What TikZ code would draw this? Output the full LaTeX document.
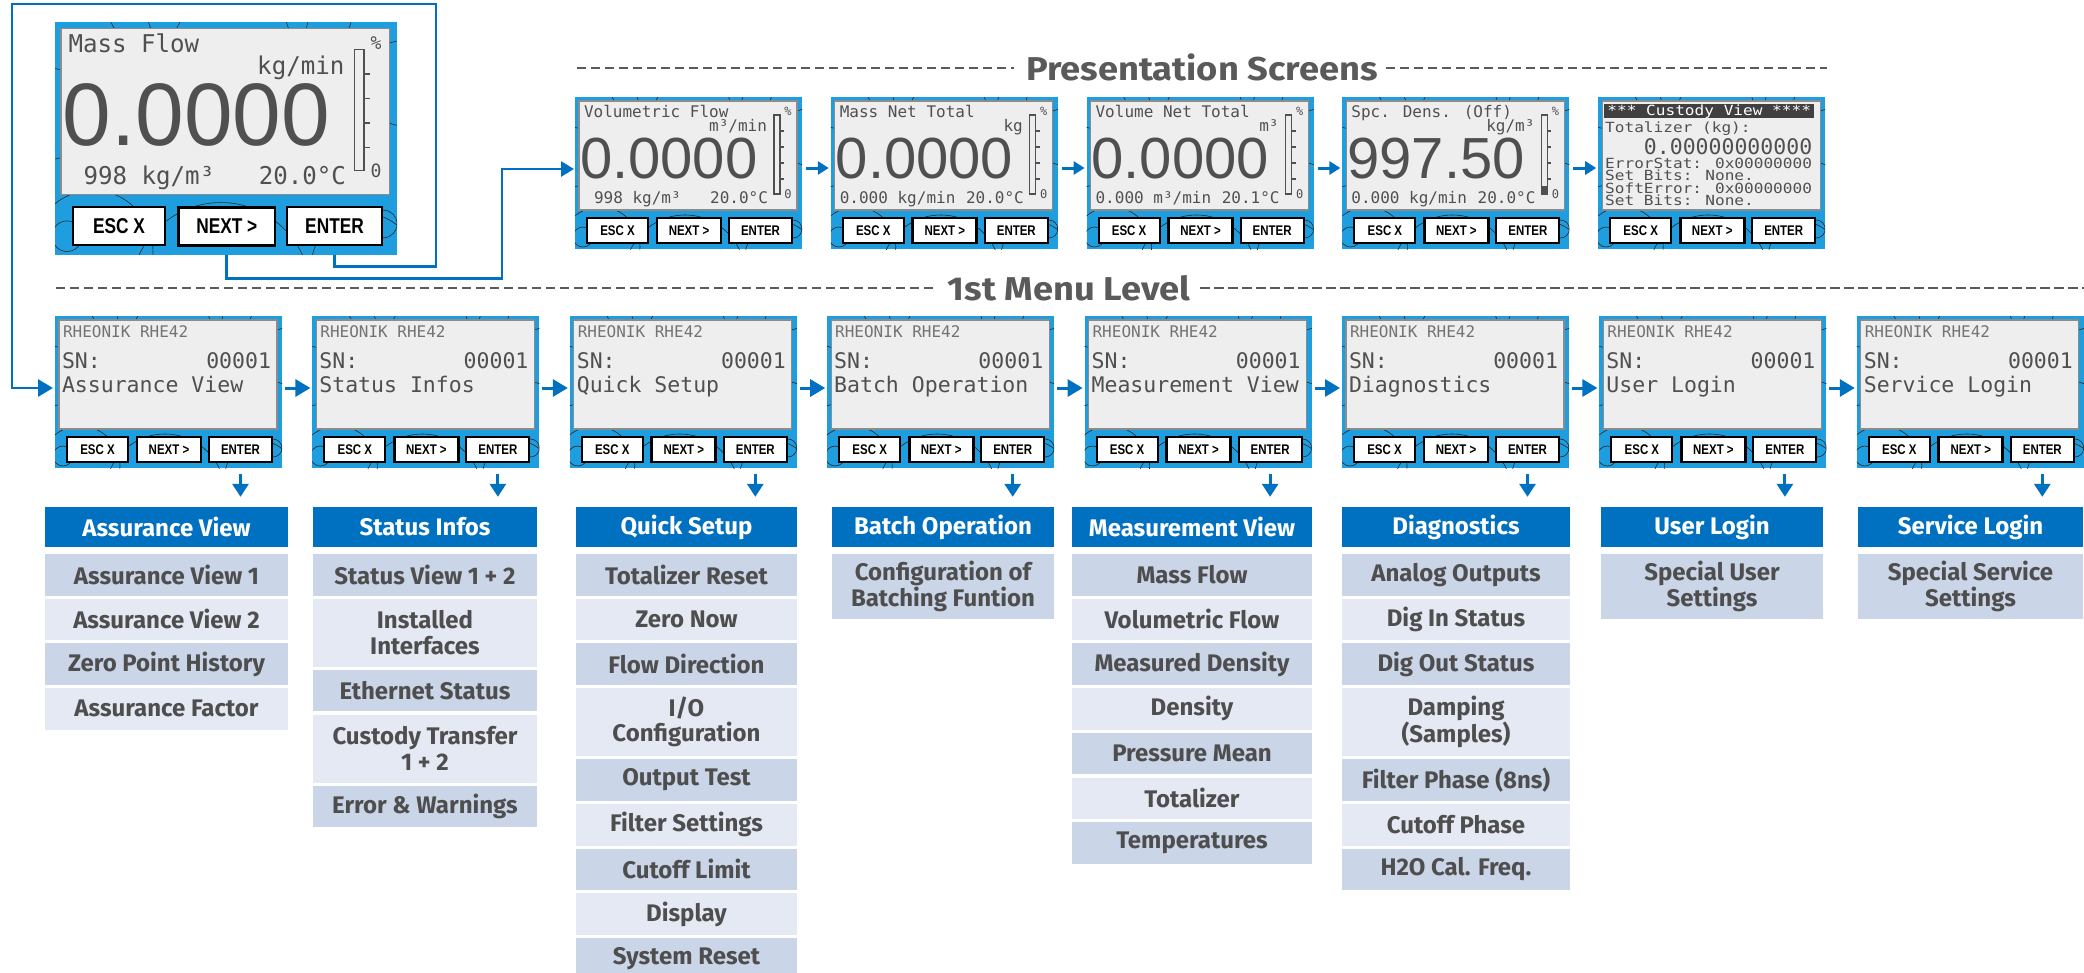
\documentclass[tikz,border=0pt]{standalone}
\usepackage{fontspec}
\usepackage{graphicx}
\setmainfont{Fira Sans}
\newfontfamily\lcdfont{DejaVu Sans Mono}
\newfontfamily\digfont{Liberation Sans}
\newfontfamily\btnfam{Liberation Sans}
\usetikzlibrary{arrows.meta,calc}
\definecolor{hblue}{RGB}{0,112,192}
\definecolor{rowdark}{RGB}{203,213,232}
\definecolor{rowlight}{RGB}{229,233,243}
\definecolor{txtgrey}{RGB}{78,78,78}
\definecolor{lcdblue}{RGB}{30,158,222}
\definecolor{lcdbg}{RGB}{238,238,238}
\definecolor{lcdtxt}{RGB}{80,80,80}
\definecolor{titlegrey}{RGB}{90,90,90}
\newcommand{\btxt}[1]{\scalebox{0.82}[1]{#1}}
\newcommand{\tscale}[1]{\scalebox{1.1}[1]{#1}}
\newcommand{\cvtxt}[1]{\scalebox{1.15}[1]{#1}}
\tikzset{
  lcdframe/.style={draw=none, fill=lcdblue, minimum width=227pt, minimum height=152pt, anchor=north west, inner sep=0pt, outer sep=0pt},
  lcdscreen/.style={fill=lcdbg, draw=black!45, line width=1.2pt},
  patt/.style={draw=black!85, line width=0.6pt},
  btn/.style={draw=black, fill=white, line width=2pt, minimum height=25pt, inner sep=0pt, font=\btnfam\bfseries\fontsize{14}{14}\selectfont},
  lcdt/.style={inner sep=0pt, outer sep=0pt, text=lcdtxt, font=\lcdfont\fontsize{16}{17}\selectfont},
  lcdbig/.style={font=\lcdfont\fontsize{21.5}{22}\selectfont},
  lcdsm/.style={font=\lcdfont\fontsize{14}{14}\selectfont},
  lcdpct/.style={inner sep=0pt, text=lcdtxt, font=\lcdfont\fontsize{12}{12}\selectfont},
  bigdig/.style={inner sep=0pt, outer sep=0pt, text=lcdtxt, font=\digfont\fontsize{58}{60}\selectfont},
  bar/.style={draw=lcdtxt, line width=1.2pt},
  hdr/.style={fill=hblue, text=white, font=\bfseries\fontsize{24}{25.5}\selectfont, minimum height=40pt, inner sep=0pt},
  rowbox/.style={text=txtgrey, font=\bfseries\fontsize{24}{25.5}\selectfont, align=center, inner sep=0pt},
  ttl/.style={text=titlegrey, font=\bfseries\fontsize{33}{35}\selectfont, inner sep=0pt},
  dashl/.style={draw=titlegrey, line width=2.6pt, dash pattern=on 9.3pt off 4.7pt},
  marr/.style={draw=hblue, line width=3pt, -{Triangle[length=15pt,width=17pt]}},
  parr/.style={draw=hblue, line width=3pt, -{Triangle[length=11pt,width=13pt]}},
  darr/.style={draw=hblue, line width=3pt, -{Triangle[length=13pt,width=16pt]}},
  loopl/.style={draw=hblue, line width=2.8pt},
}
\newcommand{\lcdbody}[1]{%
  \node[lcdframe] (#1) at (0,0) {};
  \begin{scope}
    \clip (0,0) rectangle (227,152);
    \draw[patt] (25,150) circle (40) (115,-15) circle (55) (205,160) circle (35)
      (-5,60) circle (30) (232,40) circle (28) (110,178) circle (60)
      (8,140) circle (10) (218,132) circle (9) (60,-10) circle (25) (175,-5) circle (22);
  \end{scope}
  \draw[lcdscreen] (4,4) rectangle (222,113);
  \node[btn, minimum width=61pt] (#1esc) at (42.5,133.5) {\btxt{ESC X}};
  \node[btn, minimum width=64pt, line width=2.8pt] (#1nxt) at (114,133.5) {\btxt{NEXT >}};
  \node[btn, minimum width=63pt] (#1ent) at (185.5,133.5) {\btxt{ENTER}};
}
\newcommand{\prescontent}[7]{%
  \node[lcdt, anchor=base west] (#1t) at (9,20) {#2};
  \node[lcdt, anchor=base east] (#1u) at (192,34) {#3};
  \node[bigdig, anchor=base west] (#1v) at (5,81) {#4};
  \node[lcdt, anchor=base west] (#1l) at (#5,106) {#6};
  \node[lcdt, anchor=base east] (#1r) at (193,106) {#7};
  \draw[bar] (199,18) rectangle (205,97) (205,34) -- (209,34) (205,50) -- (209,50)
    (205,66) -- (209,66) (205,82) -- (209,82);
  \node[lcdpct] (#1p) at (213,14) {\%};
  \node[lcdpct] (#1z) at (213,97) {0};
}
\newcommand{\menuscr}[3]{%
  \begin{scope}[shift={(#2,316)}]
    \lcdbody{#1}
    \node[lcdt, text=black!55, anchor=base west] (#1a) at (8,21) {RHEONIK RHE42};
    \node[lcdt, lcdbig, anchor=base west] (#1b) at (7,52) {SN:};
    \node[lcdt, lcdbig, anchor=base east] (#1c) at (216,52) {00001};
    \node[lcdt, lcdbig, anchor=base west] (#1d) at (7,76) {#3};
  \end{scope}%
}
\newcommand{\menucol}[5]{%
  \node[hdr, minimum width={#3-#2}] (#1) at ({(#2+#3)/2},527) {#4};
  \xdef\cury{554}%
  \foreach \hh/\txt [count=\i] in {#5} {%
    \ifodd\i \def\rowcol{rowdark}\else\def\rowcol{rowlight}\fi
    \node[rowbox, fill=\rowcol, minimum width={#3-#2}, minimum height=\hh] (#1\i) at ({(#2+#3)/2},{\cury+\hh/2}) {\txt};
    \pgfmathsetmacro\ny{\cury+\hh+3.2}%
    \xdef\cury{\ny}%
  }%
}
\begin{document}
\begin{tikzpicture}[x=1pt,y=-1pt]
\useasboundingbox (0,0) rectangle (2084,972);

% ---- big display
\begin{scope}[shift={(55,22)}, xscale=1.507, yscale=1.53, transform shape]
  \lcdbody{big}
  \prescontent{big}{Mass Flow}{kg/min}{0.0000}{19}{998 kg/m³}{20.0°C}
\end{scope}

% ---- presentation title
\node[ttl] (pt) at (1202,67) {\tscale{Presentation Screens}};
\coordinate (ptl) at (577,68);
\coordinate (ptr) at (1827,68);
\draw[dashl] (ptl) -- ([xshift=-12pt]pt.west |- ptl);
\draw[dashl] ([xshift=8pt]pt.east |- ptr) -- (ptr);

% ---- presentation screens
\begin{scope}[shift={(575,97)}]
  \lcdbody{p1}
  \prescontent{p1}{Volumetric Flow}{m³/min}{0.0000}{19}{998 kg/m³}{20.0°C}
\end{scope}
\begin{scope}[shift={(830.8,97)}]
  \lcdbody{p2}
  \prescontent{p2}{Mass Net Total}{kg}{0.0000}{9}{0.000 kg/min}{20.0°C}
\end{scope}
\begin{scope}[shift={(1086.6,97)}]
  \lcdbody{p3}
  \prescontent{p3}{Volume Net Total}{m³}{0.0000}{9}{0.000 m³/min}{20.1°C}
\end{scope}
\begin{scope}[shift={(1342.4,97)}]
  \lcdbody{p4}
  \prescontent{p4}{Spc. Dens. (Off)}{kg/m³}{997.50}{9}{0.000 kg/min}{20.0°C}
  \fill[lcdtxt] (199,89) rectangle (205,97);
\end{scope}
\begin{scope}[shift={(1598.2,97)}]
  \lcdbody{p5}
  \fill[black!75] (6,7) rectangle (216,21);
  \node[lcdt, lcdsm, text=white] (p5h) at (111,14.5) {\cvtxt{*** Custody View ****}};
  \node[lcdt, lcdsm, anchor=base west] (p5a) at (7,35) {\cvtxt{Totalizer (kg):}};
  \node[lcdt, lcdbig, anchor=base east] (p5b) at (214,57) {0.00000000000};
  \node[lcdt, lcdsm, anchor=base west] (p5c) at (7,71) {\cvtxt{ErrorStat: 0x00000000}};
  \node[lcdt, lcdsm, anchor=base west] (p5d) at (7,83.5) {\cvtxt{Set Bits: None.}};
  \node[lcdt, lcdsm, anchor=base west] (p5e) at (7,96) {\cvtxt{SoftError: 0x00000000}};
  \node[lcdt, lcdsm, anchor=base west] (p5f) at (7,108.5) {\cvtxt{Set Bits: None.}};
\end{scope}

\foreach \a/\b in {p1/p2,p2/p3,p3/p4,p4/p5}
  \draw[parr] ([xshift=4pt,yshift=5pt]\a.east) -- ([xshift=-2pt,yshift=5pt]\b.west);

% ---- menu title
\node[ttl] (mt) at (1069,288) {\tscale{1st Menu Level}};
\coordinate (mtl) at (56,288);
\coordinate (mtr) at (2084,288);
\draw[dashl] (mtl) -- ([xshift=-12pt]mt.west |- mtl);
\draw[dashl] ([xshift=10pt]mt.east |- mtr) -- (mtr);

% ---- menu screens
\menuscr{m1}{55}{Assurance View}
\menuscr{m2}{312.4}{Status Infos}
\menuscr{m3}{569.8}{Quick Setup}
\menuscr{m4}{827.2}{Batch Operation}
\menuscr{m5}{1084.6}{Measurement View}
\menuscr{m6}{1342}{Diagnostics}
\menuscr{m7}{1599.4}{User Login}
\menuscr{m8}{1856.8}{Service Login}

\foreach \a/\b in {m1/m2,m2/m3,m3/m4,m4/m5,m5/m6,m6/m7,m7/m8}
  \draw[marr] ([xshift=3pt,yshift=4pt]\a.east) -- ([xshift=-2pt,yshift=4pt]\b.west);

% ---- loops from big display
\coordinate (loopR) at (436,4);
\coordinate (loopL) at (12,4);
\draw[loopl, -{Triangle[length=15pt,width=17pt]}] (bigent.south |- big.south) -- ++(0,12) -| (loopR) -- (loopL) |- ([xshift=-2pt,yshift=4pt]m1.west);
\draw[loopl, -{Triangle[length=13pt,width=15pt]}] (bignxt.south |- big.south) -- ++(0,24) -| ([xshift=-73pt,yshift=4pt]p1.west) -- ([xshift=-1pt,yshift=4pt]p1.west);

% ---- columns
\menucol{ca}{45}{288}{Assurance View}{41.5/{Assurance View 1},41.5/{Assurance View 2},41.5/{Zero Point History},41.5/{Assurance Factor}}
\menucol{cb}{313}{537}{Status Infos}{41.5/{Status View 1 + 2},68/{Installed\\Interfaces},41.5/{Ethernet Status},68/{Custody Transfer\\1 + 2},41.5/{Error \& Warnings}}
\menucol{cc}{576}{797}{Quick Setup}{41.5/{Totalizer Reset},41.5/{Zero Now},41.5/{Flow Direction},68/{I/O\\Configuration},41.5/{Output Test},41.5/{Filter Settings},41.5/{Cutoff Limit},41.5/{Display},41.5/{System Reset}}
\menucol{cd}{832}{1054}{Batch Operation}{65/{Configuration of\\Batching Funtion}}
\menucol{ce}{1072}{1312}{Measurement View}{41.5/{Mass Flow},41.5/{Volumetric Flow},41.5/{Measured Density},41.5/{Density},41.5/{Pressure Mean},41.5/{Totalizer},41.5/{Temperatures}}
\menucol{cf}{1342}{1570}{Diagnostics}{41.5/{Analog Outputs},41.5/{Dig In Status},41.5/{Dig Out Status},68/{Damping\\(Samples)},41.5/{Filter Phase (8ns)},41.5/{Cutoff Phase},41.5/{H2O Cal. Freq.}}
\menucol{cg}{1601}{1823}{User Login}{65/{Special User\\Settings}}
\menucol{ch}{1858}{2083}{Service Login}{65/{Special Service\\Settings}}

% ---- down arrows
\foreach \m/\c in {m1/ca,m2/cb,m3/cc,m4/cd,m5/ce,m6/cf,m7/cg,m8/ch}
  \draw[darr] ([yshift=-11pt]\m ent.south) -- ($(\m ent.south |- \c.north)+(0,-10)$);
\end{tikzpicture}
\end{document}
